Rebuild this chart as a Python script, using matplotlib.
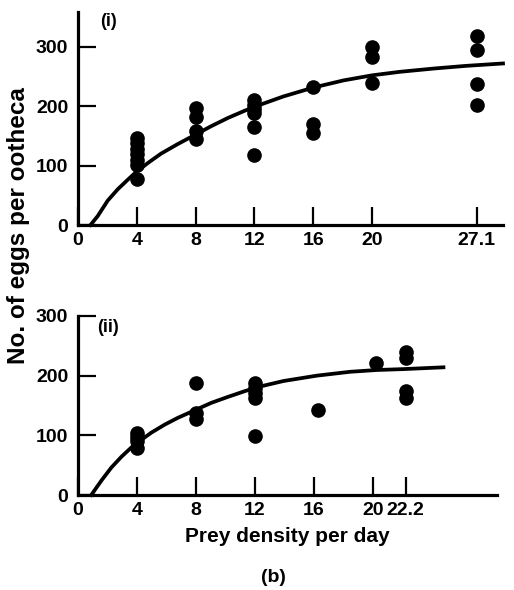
import matplotlib
matplotlib.use("Agg")
import matplotlib.pyplot as plt

plt.rcParams["font.family"] = ["Liberation Sans", "DejaVu Sans"]
plt.rcParams["font.weight"] = "bold"
plt.rcParams.update({
    "xtick.direction": "in", "ytick.direction": "in",
    "xtick.major.size": 13, "ytick.major.size": 13,
    "xtick.major.width": 1.6, "ytick.major.width": 1.6,
    "xtick.major.pad": 5, "ytick.major.pad": 7,
    "xtick.labelsize": 14, "ytick.labelsize": 14,
    "xtick.color": "black", "ytick.color": "black",
})

# ---- panel (i) ----
top_xticks = [0, 4, 8, 12, 16, 20, 27.1]
top_xticklabels = ["0", "4", "8", "12", "16", "20", "27.1"]
top_yticks = [0, 100, 200, 300]

top_pts_x = [4, 4, 4, 4, 4, 4, 4,
             8, 8, 8, 8,
             12, 12, 12, 12, 12, 12,
             16, 16, 16,
             20, 20, 20,
             27.1, 27.1, 27.1, 27.1]
top_pts_y = [146, 137, 128, 119, 110, 101, 78,
             197, 182, 158, 144,
             210, 202, 195, 188, 165, 117,
             232, 170, 155,
             299, 283, 239,
             318, 294, 237, 202]

top_curve_x = [0.85, 1.34, 2.02, 2.7, 3.38, 3.95, 4.74, 5.65, 6.78, 7.92,
               9.05, 10.2, 11.33, 12.37, 13.96, 16.0, 18.05, 19.98, 21.9,
               24.2, 26.4, 28.9]
top_curve_y = [0, 15, 41, 60, 76, 89, 104, 120, 136, 151,
               166, 180, 192, 202, 216, 231, 243, 251.5, 257.5,
               263, 267.5, 271.5]

# ---- panel (ii) ----
bot_xticks = [0, 4, 8, 12, 16, 20, 22.2]
bot_xticklabels = ["0", "4", "8", "12", "16", "20", "22.2"]
bot_yticks = [0, 100, 200, 300]

bot_pts_x = [4, 4, 4, 4,
             8, 8, 8,
             12, 12, 12, 12, 12,
             16.3,
             20.2,
             22.2, 22.2, 22.2, 22.2]
bot_pts_y = [104, 97, 90, 79,
             188, 138, 128,
             188, 180, 171, 163, 99,
             142,
             221,
             240, 230, 174, 163]

bot_curve_x = [0.9, 1.58, 2.26, 2.94, 3.61, 4.18, 4.97, 5.88, 6.78, 7.91,
               9.04, 10.17, 11.3, 12.2, 13.92, 16.18, 18.44, 20.25, 22.05,
               24.77]
bot_curve_y = [0, 24, 46, 64, 79.5, 90.5, 104.5, 118, 129.5, 142,
               154.5, 164.5, 174, 181, 191, 200, 206.5, 209.5, 211,
               214]

W, H = 514, 590
fig = plt.figure(figsize=(W / 100, H / 100), dpi=100)


def px_axes(left, top, right, bottom):
    return fig.add_axes([left / W, 1 - bottom / H, (right - left) / W, (bottom - top) / H])


def style(ax, xticks, xlabels, yticks):
    for s in ("top", "right"):
        ax.spines[s].set_visible(False)
    for s in ("left", "bottom"):
        ax.spines[s].set_linewidth(2.3)
    ax.set_xticks(xticks, labels=xlabels, fontweight="bold")
    ax.set_yticks(yticks, labels=[str(v) for v in yticks], fontweight="bold")
    ax.xaxis.set_ticks_position("bottom")
    ax.yaxis.set_ticks_position("left")


def draw_panel(ax, cx, cy, px, py):
    ax.plot(cx, cy, color="black", lw=2.7, clip_on=False, zorder=3)
    ax.plot(px, py, "o", color="black", ms=9.5, clip_on=False, zorder=4)


ax1 = px_axes(78, 12, 503, 225)
draw_panel(ax1, top_curve_x, top_curve_y, top_pts_x, top_pts_y)
ax1.set_xlim(0, 28.9)
ax1.set_ylim(0, 358)
style(ax1, top_xticks, top_xticklabels, top_yticks)

ax2 = px_axes(78, 316, 497, 495)
draw_panel(ax2, bot_curve_x, bot_curve_y, bot_pts_x, bot_pts_y)
ax2.set_xlim(0, 28.4)
ax2.set_ylim(0, 300)
style(ax2, bot_xticks, bot_xticklabels, bot_yticks)

fig.text(100 / W, 1 - 22 / H, "(i)", fontsize=13, fontweight="bold",
         ha="left", va="center")
fig.text(97 / W, 1 - 328 / H, "(ii)", fontsize=13, fontweight="bold",
         ha="left", va="center")
fig.text(19 / W, 1 - 226 / H, "No. of eggs per ootheca", rotation=90,
         fontsize=17.5, fontweight="bold", ha="center", va="center")
fig.text(287 / W, 1 - 537 / H, "Prey density per day", fontsize=15,
         fontweight="bold", ha="center", va="center")
fig.text(273 / W, 1 - 577 / H, "(b)", fontsize=14, fontweight="bold",
         ha="center", va="center")

fig.savefig("out.png", dpi=100, facecolor="white")
